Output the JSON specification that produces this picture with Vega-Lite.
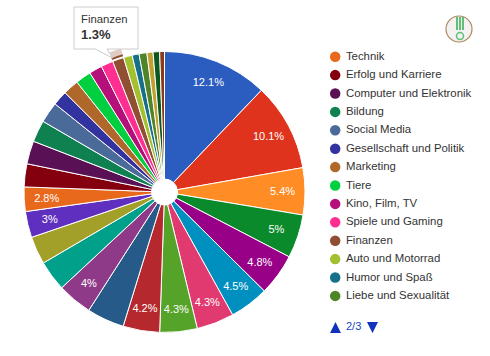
{"$schema":"https://vega.github.io/schema/vega-lite/v6.json","width":282,"height":282,"padding":{"left":23.5,"top":51,"right":184.5,"bottom":23},"autosize":{"type":"none"},"background":"white","view":{"stroke":null},
"config":{"font":"Liberation Sans"},
"datasets":{"slices":[
{"i":1,"name":"Kategorie A","share":12.1,"label":"12.1%"},
{"i":2,"name":"Kategorie B","share":10.1,"label":"10.1%"},
{"i":3,"name":"Kategorie C","share":5.4,"label":"5.4%"},
{"i":4,"name":"Kategorie D","share":5,"label":"5%"},
{"i":5,"name":"Kategorie E","share":4.8,"label":"4.8%"},
{"i":6,"name":"Kategorie F","share":4.5,"label":"4.5%"},
{"i":7,"name":"Kategorie G","share":4.3,"label":"4.3%"},
{"i":8,"name":"Kategorie H","share":4.3,"label":"4.3%"},
{"i":9,"name":"Kategorie I","share":4.2,"label":"4.2%"},
{"i":10,"name":"Kategorie J","share":4.3,"label":""},
{"i":11,"name":"Kategorie K","share":4,"label":"4%"},
{"i":12,"name":"Kategorie L","share":3.5,"label":""},
{"i":13,"name":"Kategorie M","share":3.2,"label":""},
{"i":14,"name":"Kategorie N","share":3,"label":"3%"},
{"i":15,"name":"Technik","share":2.8,"label":"2.8%"},
{"i":16,"name":"Erfolg und Karriere","share":2.65,"label":""},
{"i":17,"name":"Computer und Elektronik","share":2.65,"label":""},
{"i":18,"name":"Bildung","share":2.5,"label":""},
{"i":19,"name":"Social Media","share":2.4,"label":""},
{"i":20,"name":"Gesellschaft und Politik","share":1.7,"label":""},
{"i":21,"name":"Marketing","share":1.8,"label":""},
{"i":22,"name":"Tiere","share":1.8,"label":""},
{"i":23,"name":"Kino, Film, TV","share":1.5,"label":""},
{"i":24,"name":"Spiele und Gaming","share":1.4,"label":""},
{"i":25,"name":"Finanzen","share":1.3,"label":"1.3%"},
{"i":26,"name":"Auto und Motorrad","share":1.0,"label":""},
{"i":27,"name":"Humor und Spaß","share":0.8,"label":""},
{"i":28,"name":"Liebe und Sexualität","share":0.9,"label":""},
{"i":29,"name":"Kategorie O","share":0.7,"label":""},
{"i":30,"name":"Kategorie P","share":0.75,"label":""},
{"i":31,"name":"Kategorie Q","share":0.55,"label":""}
]},
"data":{"name":"slices"},
"layer":[
{"mark":{"type":"arc","outerRadius":140.5,"innerRadius":13,"stroke":"white","strokeWidth":1},
"encoding":{"theta":{"field":"share","type":"quantitative","stack":true},"order":{"field":"i","type":"quantitative"},
"color":{"field":"name","type":"nominal","sort":null,"scale":{"domain":["Kategorie A","Kategorie B","Kategorie C","Kategorie D","Kategorie E","Kategorie F","Kategorie G","Kategorie H","Kategorie I","Kategorie J","Kategorie K","Kategorie L","Kategorie M","Kategorie N","Technik","Erfolg und Karriere","Computer und Elektronik","Bildung","Social Media","Gesellschaft und Politik","Marketing","Tiere","Kino, Film, TV","Spiele und Gaming","Finanzen","Auto und Motorrad","Humor und Spaß","Liebe und Sexualität","Kategorie O","Kategorie P","Kategorie Q"],
"range":["#2b5cc0","#e0331d","#ff8c24","#0a8a2a","#990088","#0090c0","#e03a70","#56a32a","#b5282e","#265a88","#8f3a88","#00a08a","#a3a02a","#5f2fbf","#e8681c","#85000f","#5a1055","#0f8050","#4a6a9a","#3333a0","#b0682a","#00d040","#b5107a","#ff2f92","#904f33","#a3c030","#17708a","#4f8428","#bfa030","#0a5a20","#8a3a1a"]},
"legend":{"orient":"none","legendX":306,"legendY":0,"title":null,"values":["Technik","Erfolg und Karriere","Computer und Elektronik","Bildung","Social Media","Gesellschaft und Politik","Marketing","Tiere","Kino, Film, TV","Spiele und Gaming","Finanzen","Auto und Motorrad","Humor und Spaß","Liebe und Sexualität"],"symbolType":"circle","symbolSize":110,"symbolStrokeWidth":0,"labelFontSize":11.4,"labelColor":"#333333","labelFont":"Liberation Sans","rowPadding":5.4,"labelOffset":5,"labelLimit":200}}}},
{"mark":{"type":"arc","outerRadius":150,"innerRadius":144,"fill":"#8f4f33","strokeWidth":0},
"encoding":{"theta":{"field":"share","type":"quantitative","stack":true},"order":{"field":"i","type":"quantitative"},
"fillOpacity":{"condition":{"test":"datum.name==='Finanzen'","value":0.28},"value":0}}},
{"mark":{"type":"arc","outerRadius":144,"innerRadius":142,"fill":"#904f33","strokeWidth":0},
"encoding":{"theta":{"field":"share","type":"quantitative","stack":true},"order":{"field":"i","type":"quantitative"},
"fillOpacity":{"condition":{"test":"datum.name==='Finanzen'","value":1},"value":0}}},
{"mark":{"type":"text","color":"white","fontSize":11,"font":"Liberation Sans","dy":1},
"encoding":{"theta":{"field":"share","type":"quantitative","stack":true},"order":{"field":"i","type":"quantitative"},"radius":{"value":118},
"text":{"condition":{"test":"datum.name!=='Finanzen'","field":"label"},"value":""}}},
{"transform":[{"filter":"datum.name==='Finanzen'"}],
"layer":[
{"mark":{"type":"point","filled":true,"opacity":1,"fill":"#ffffff","stroke":"#cccccc","strokeWidth":1,"size":4,"shape":"M50.5,-44 H114.5 V-2 H83.5 L89,7 L71.5,-2 H50.5 Z"},"encoding":{"x":{"value":0},"y":{"value":0}}},
{"mark":{"type":"text","align":"left","fontSize":11.3,"color":"#333333","font":"Liberation Sans"},"encoding":{"x":{"value":57.5},"y":{"value":-31},"text":{"field":"name"}}},
{"mark":{"type":"text","align":"left","fontSize":13,"fontWeight":"bold","color":"#333333","font":"Liberation Sans"},"encoding":{"x":{"value":57.5},"y":{"value":-16},"text":{"field":"label"}}},
{"mark":{"type":"point","filled":true,"opacity":1,"fill":"#1133bb","strokeWidth":0,"size":4,"shape":"M306.5,282 L317.5,282 L312,271 Z M343.5,271 H354.5 L349,282 Z"},"encoding":{"x":{"value":0},"y":{"value":0}}},
{"mark":{"type":"text","align":"left","fontSize":11,"color":"#1a3fc0","font":"Liberation Sans","text":"2/3"},"encoding":{"x":{"value":322.5},"y":{"value":276}}},
{"mark":{"type":"point","filled":true,"opacity":1,"fill":"#f3f1f1","stroke":"#b08a60","strokeWidth":1.2,"size":676,"shape":"circle"},"encoding":{"x":{"value":435.5},"y":{"value":-22}}},
{"mark":{"type":"point","filled":true,"opacity":1,"fill":"#62bf78","strokeWidth":0,"size":4,"shape":"M432.5,-34 H434.5 V-21 H432.5 Z M435.5,-34 H437.5 V-21 H435.5 Z M438.5,-34 H440.5 V-21 H438.5 Z"},"encoding":{"x":{"value":0},"y":{"value":0}}},
{"mark":{"type":"point","filled":false,"opacity":1,"stroke":"#62bf78","strokeWidth":1.5,"size":49,"shape":"circle"},"encoding":{"x":{"value":436.5},"y":{"value":-15}}}
]}
]}
